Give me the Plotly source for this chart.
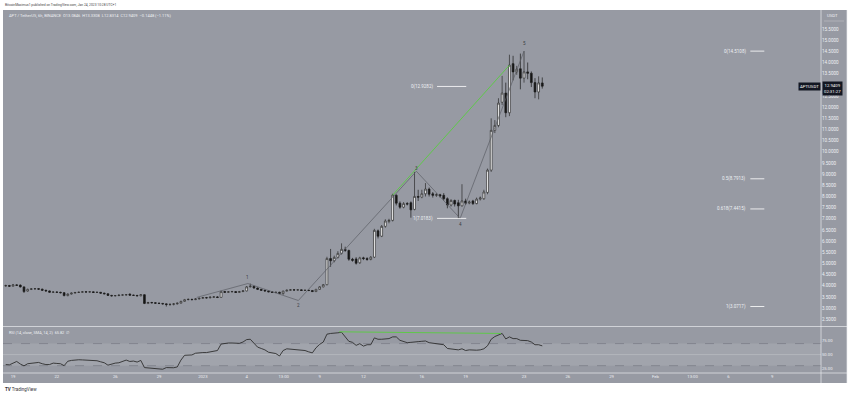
import plotly.graph_objects as go
import pandas as pd

# ---------------- data ----------------
start_time = "2022-12-18 12:00"
n_candles = 148
times = pd.date_range(start_time, periods=n_candles, freq="6h")

opens = [3.99, 4.01, 3.98, 4.04, 4.03, 3.95, 3.76, 3.84, 3.86, 3.87,
         3.85, 3.80, 3.77, 3.71, 3.72, 3.71, 3.69, 3.56, 3.63, 3.67,
         3.70, 3.71, 3.73, 3.72, 3.73, 3.70, 3.71, 3.67, 3.64, 3.57,
         3.55, 3.56, 3.58, 3.59, 3.63, 3.58, 3.57, 3.55, 3.60, 3.21,
         3.25, 3.24, 3.22, 3.21, 3.19, 3.16, 3.17, 3.19, 3.22, 3.30,
         3.38, 3.39, 3.38, 3.41, 3.44, 3.47, 3.46, 3.49, 3.50, 3.48,
         3.74, 3.71, 3.73, 3.74, 3.70, 3.74, 3.77, 3.95, 3.98, 3.90,
         3.84, 3.80, 3.77, 3.73, 3.70, 3.71, 3.65, 3.76, 3.80, 3.82,
         3.81, 3.82, 3.79, 3.80, 3.79, 3.74, 3.84, 3.95, 4.05, 5.22,
         5.12, 5.27, 5.45, 5.63, 5.58, 5.19, 5.20, 5.03, 5.25, 5.22,
         5.18, 5.28, 6.46, 6.22, 6.66, 6.88, 6.93, 8.05, 7.70, 7.52,
         7.68, 7.72, 7.42, 8.00, 7.97, 8.12, 8.33, 8.12, 8.05, 8.08,
         8.05, 7.90, 7.62, 7.82, 7.72, 7.58, 7.80, 7.70, 7.80, 7.68,
         7.88, 7.90, 8.18, 9.18, 10.96, 11.18, 12.22, 12.63, 11.75, 13.95,
         13.58, 13.72, 13.30, 13.58, 13.52, 13.10, 12.68, 13.0846]

highs = [4.05, 4.04, 4.08, 4.07, 4.06, 3.97, 3.87, 3.89, 3.90, 3.89,
         3.87, 3.82, 3.79, 3.75, 3.74, 3.73, 3.72, 3.66, 3.70, 3.72,
         3.74, 3.76, 3.75, 3.76, 3.75, 3.73, 3.72, 3.69, 3.66, 3.59,
         3.58, 3.61, 3.61, 3.62, 3.65, 3.60, 3.59, 3.62, 3.62, 3.28,
         3.28, 3.26, 3.24, 3.23, 3.21, 3.20, 3.22, 3.25, 3.33, 3.41,
         3.43, 3.42, 3.44, 3.47, 3.50, 3.50, 3.52, 3.53, 3.53, 3.78,
         3.77, 3.76, 3.77, 3.76, 3.77, 3.80, 3.99, 4.10, 4.00, 3.92,
         3.86, 3.82, 3.79, 3.75, 3.73, 3.73, 3.78, 3.83, 3.85, 3.84,
         3.84, 3.84, 3.82, 3.82, 3.81, 3.86, 3.98, 4.08, 5.30, 5.65,
         5.35, 5.55, 5.90, 5.75, 5.62, 5.25, 5.28, 5.30, 5.30, 5.28,
         5.33, 6.55, 6.52, 6.72, 6.98, 7.00, 8.12, 8.10, 7.78, 7.75,
         7.75, 7.78, 9.10, 8.30, 8.30, 8.60, 8.40, 8.20, 8.15, 8.12,
         8.15, 7.96, 7.88, 7.86, 7.85, 8.55, 7.90, 7.82, 7.85, 7.95,
         8.00, 8.30, 9.25, 11.50, 11.42, 12.40, 13.40, 13.10, 14.35, 14.30,
         13.85, 14.40, 14.5108, 14.00, 13.60, 13.30, 13.38, 13.3308]

lows = [3.96, 3.95, 3.96, 3.99, 3.92, 3.68, 3.73, 3.81, 3.83, 3.82,
        3.77, 3.74, 3.69, 3.68, 3.68, 3.66, 3.53, 3.53, 3.61, 3.65,
        3.68, 3.69, 3.70, 3.70, 3.68, 3.68, 3.65, 3.62, 3.55, 3.52,
        3.53, 3.54, 3.56, 3.57, 3.56, 3.55, 3.53, 3.53, 3.18, 3.18,
        3.21, 3.19, 3.18, 3.16, 3.0717, 3.10, 3.12, 3.16, 3.20, 3.28,
        3.35, 3.35, 3.36, 3.39, 3.42, 3.43, 3.44, 3.47, 3.45, 3.46,
        3.68, 3.69, 3.71, 3.68, 3.68, 3.72, 3.75, 3.93, 3.87, 3.81,
        3.77, 3.74, 3.71, 3.68, 3.67, 3.63, 3.60, 3.74, 3.78, 3.79,
        3.79, 3.77, 3.77, 3.76, 3.72, 3.72, 3.82, 3.93, 4.02, 4.85,
        5.05, 5.22, 5.40, 5.52, 5.12, 5.08, 4.95, 4.98, 5.15, 5.12,
        5.14, 5.24, 6.12, 6.18, 6.60, 6.80, 6.88, 7.60, 7.45, 7.47,
        7.60, 7.05, 7.38, 7.80, 7.92, 8.00, 8.00, 7.95, 7.98, 7.95,
        7.82, 7.47, 7.55, 7.55, 7.0183, 7.55, 7.62, 7.65, 7.62, 7.65,
        7.82, 7.85, 8.10, 9.10, 10.84, 11.10, 12.10, 11.55, 11.60, 13.20,
        13.45, 12.80, 13.10, 13.25, 12.90, 12.40, 12.35, 12.8314]

closes = [4.01, 3.98, 4.04, 4.02, 3.95, 3.74, 3.84, 3.86, 3.87, 3.85,
          3.80, 3.77, 3.71, 3.72, 3.71, 3.69, 3.56, 3.63, 3.67, 3.70,
          3.71, 3.73, 3.72, 3.73, 3.70, 3.71, 3.67, 3.64, 3.57, 3.55,
          3.56, 3.58, 3.59, 3.60, 3.58, 3.57, 3.55, 3.60, 3.21, 3.25,
          3.24, 3.22, 3.21, 3.19, 3.16, 3.17, 3.19, 3.22, 3.30, 3.38,
          3.39, 3.38, 3.41, 3.44, 3.47, 3.46, 3.49, 3.50, 3.48, 3.74,
          3.71, 3.73, 3.74, 3.70, 3.74, 3.77, 3.95, 3.98, 3.90, 3.84,
          3.80, 3.77, 3.73, 3.70, 3.71, 3.66, 3.76, 3.80, 3.82, 3.81,
          3.82, 3.79, 3.80, 3.79, 3.74, 3.84, 3.95, 4.05, 5.22, 5.12,
          5.27, 5.45, 5.63, 5.58, 5.19, 5.14, 5.01, 5.25, 5.22, 5.18,
          5.28, 6.48, 6.22, 6.66, 6.90, 6.93, 8.06, 7.70, 7.52, 7.68,
          7.66, 7.40, 8.00, 7.97, 8.12, 8.33, 8.10, 8.05, 8.08, 8.02,
          7.90, 7.62, 7.82, 7.66, 7.58, 7.80, 7.70, 7.75, 7.68, 7.88,
          7.93, 8.20, 9.18, 10.96, 11.18, 12.18, 12.63, 11.75, 13.88, 13.58,
          13.70, 13.30, 13.58, 13.52, 13.10, 12.68, 13.0857, 12.9409]

rsi = [32, 31.5, 34.5, 37.6, 33, 29.6, 33.5, 34, 34.6, 35.8,
       33.5, 32, 32, 34.6, 34, 33.5, 30, 38, 39.5, 40.7,
       40.7, 40.4, 40.1, 39.8, 39.5, 38.9, 37, 35.2, 30.9, 33.3,
       34.6, 35.2, 38.3, 40.1, 37.6, 38.3, 36.5, 39.5, 26.5, 25.9,
       25.3, 25, 24.7, 23.5, 26.5, 26.5, 26.2, 27.7, 40.1, 48.8,
       48.8, 49.4, 52.5, 53.4, 53.7, 53.7, 55, 57.4, 57.4, 69.1,
       70.6, 71, 71, 70.4, 70.4, 72.8, 77.2, 77.8, 69.8, 63.6,
       61.1, 58.6, 54.3, 52.5, 51.9, 47.5, 57.4, 60.5, 59.9, 59.3,
       58.6, 58.3, 57.4, 55, 53.1, 62.3, 68.5, 72.8, 87, 88.3,
       88.3, 89.5, 90.5, 82.1, 74.1, 72.2, 66.7, 69.8, 65.4, 67.9,
       67.9, 80.3, 77.8, 77.8, 79, 79, 82.1, 82.1, 75.9, 73.5,
       71.6, 72.2, 73.5, 73.5, 74.1, 74.7, 71.6, 70.4, 69.8, 69.1,
       67.9, 61.1, 59.9, 59.9, 58.6, 60.5, 57.4, 58.6, 58, 58,
       58.6, 60.5, 66, 77.8, 82.7, 85.1, 88.3, 78.4, 82.1, 79,
       79, 75.9, 75.9, 75.3, 72.8, 67.9, 67.9, 65.82]

tick_dates = ["2022-12-19", "2022-12-22", "2022-12-26", "2022-12-29", "2023-01-01",
              "2023-01-04", "2023-01-06 13:00", "2023-01-09", "2023-01-12", "2023-01-16",
              "2023-01-19", "2023-01-23", "2023-01-26", "2023-01-29", "2023-02-01",
              "2023-02-03 13:00", "2023-02-06", "2023-02-09"]
tick_text = ["19", "22", "26", "29", "2023", "4", "13:00", "9", "12", "16",
             "19", "23", "26", "29", "Feb", "13:00", "6", "9"]

price_ticks = [2.5, 3.0, 3.5, 4.0, 4.5, 5.0, 5.5, 6.0, 6.5, 7.0, 7.5, 8.0, 8.5, 9.0,
               9.5, 10.0, 10.5, 11.0, 11.5, 12.0, 12.5, 13.5, 14.0, 14.5, 15.0, 15.5]

x_range = ["2022-12-18 07:30", "2023-02-12 08:10"]
price_range = [2.176, 16.352]
rsi_range = [16.7, 100]
rsi_ticks = [25, 50, 75]
rsi_tick_text = ["25.00", "50.00", "75.00"]

# Elliott wave drawing
wave_x = ["2022-12-31 14:00", "2023-01-04 02:00", "2023-01-07 13:00",
          "2023-01-15 15:00", "2023-01-18 15:00", "2023-01-23 00:00"]
wave_y = [3.48, 4.10, 3.34, 9.13, 7.02, 14.51]
wave_labels = ["1", "2", "3", "4", "5"]
wave_label_y = [4.37, 3.12, 9.26, 6.75, 14.83]

# green divergence lines
green_price_x = ["2023-01-14 00:00", "2023-01-22 00:00"]
green_price_y = [8.06, 13.88]
green_rsi_x = ["2023-01-10 08:00", "2023-01-21 10:00"]
green_rsi_y = [91.3, 88.3]

# Fibonacci drawings
fib_a_x = ["2023-01-17 01:00", "2023-01-19 01:00"]
fib_a_levels = [12.9282, 7.0183]
fib_a_labels = ["0(12.9282)", "1(7.0183)"]
fib_b_x = ["2023-02-07 12:00", "2023-02-08 11:00"]
fib_b_levels = [14.5108, 8.7913, 7.4415, 3.0717]
fib_b_labels = ["0(14.5108)", "0.5(8.7913)", "0.618(7.4415)", "1(3.0717)"]

last_price = 12.9409
header_top = "BitcoinMaximus1 published on TradingView.com, Jan 24, 2023 10:28 UTC+1"
header_symbol = "APT / TetherUS, 6h, BINANCE"
header_ohlc = "O13.0846  H13.3308  L12.8314  C12.9409  −0.1448 (−1.11%)"
rsi_label = "RSI (14, close, SMA, 14, 2)  65.82  ∅"

# ---------------- styling ----------------
BG = "#979aa3"
TXT = "#eef0f3"
FONT = "Roboto, Liberation Sans, sans-serif"

W, H = 850, 396
ML, MR, MT, MB = 3, 29, 10, 23
PW = W - ML - MR
PH = H - MT - MB


def px_x(xp):
    return (xp - ML) / PW


def px_y(yp):
    return (H - MB - yp) / PH


fig = go.Figure()

fig.add_trace(go.Candlestick(
    x=times, open=opens, high=highs, low=lows, close=closes,
    xaxis="x", yaxis="y",
    increasing=dict(line=dict(color="#2b2b2b", width=0.7), fillcolor="#ffffff"),
    decreasing=dict(line=dict(color="#1b1b1b", width=0.7), fillcolor="#151515"),
    showlegend=False, hoverinfo="skip"))

fig.add_trace(go.Scatter(x=times, y=rsi, xaxis="x", yaxis="y2", mode="lines",
                         line=dict(color="#2e2e2e", width=0.9), showlegend=False,
                         hoverinfo="skip"))

fig.add_trace(go.Scatter(x=wave_x, y=wave_y, xaxis="x", yaxis="y", mode="lines",
                         line=dict(color="#5c5f66", width=0.7), showlegend=False,
                         hoverinfo="skip"))
fig.add_trace(go.Scatter(x=green_price_x, y=green_price_y, xaxis="x", yaxis="y",
                         mode="lines", line=dict(color="#5fc84a", width=1),
                         showlegend=False, hoverinfo="skip"))
fig.add_trace(go.Scatter(x=green_rsi_x, y=green_rsi_y, xaxis="x", yaxis="y2",
                         mode="lines", line=dict(color="#5fc84a", width=1),
                         showlegend=False, hoverinfo="skip"))

shapes = []
shapes.append(dict(type="rect", xref="paper", yref="paper", x0=0, x1=px_x(847),
                   y0=px_y(383), y1=1, fillcolor=BG, line=dict(width=0), layer="below"))
shapes.append(dict(type="rect", xref="paper", yref="y2", x0=0, x1=1, y0=30, y1=70,
                   fillcolor="rgba(255,255,255,0.10)", line=dict(width=0), layer="below"))
for lvl, dash, col in [(70, "dash", "#7c7f88"), (30, "dash", "#7c7f88"),
                       (50, "solid", "rgba(255,255,255,0.25)")]:
    shapes.append(dict(type="line", xref="paper", yref="y2", x0=0, x1=1, y0=lvl, y1=lvl,
                       line=dict(color=col, width=0.8, dash=dash), layer="below"))
sep = "rgba(235,237,240,0.85)"
shapes.append(dict(type="line", xref="paper", yref="paper", x0=1, x1=1,
                   y0=px_y(383), y1=1, line=dict(color=sep, width=0.8)))
shapes.append(dict(type="line", xref="paper", yref="paper", x0=0, x1=px_x(847),
                   y0=px_y(326.5), y1=px_y(326.5), line=dict(color=sep, width=0.8)))
shapes.append(dict(type="line", xref="paper", yref="paper", x0=0, x1=px_x(847),
                   y0=0, y1=0, line=dict(color=sep, width=0.8)))
shapes.append(dict(type="line", xref="paper", yref="paper", x0=px_x(847), x1=px_x(847),
                   y0=px_y(383), y1=1, line=dict(color=sep, width=0.8)))
shapes.append(dict(type="line", xref="paper", yref="paper", x0=px_x(824), x1=px_x(844),
                   y0=px_y(21), y1=px_y(21), line=dict(color="rgba(255,255,255,0.4)", width=0.6)))

annotations = []
for lvl, lab in zip(fib_a_levels, fib_a_labels):
    shapes.append(dict(type="line", xref="x", yref="y", x0=fib_a_x[0], x1=fib_a_x[1],
                       y0=lvl, y1=lvl, line=dict(color="rgba(255,255,255,0.9)", width=0.9)))
    annotations.append(dict(x=fib_a_x[0], y=lvl, xref="x", yref="y", text=lab,
                            showarrow=False, xanchor="right", yanchor="middle", xshift=-2,
                            font=dict(size=4.5, color=TXT, family=FONT)))
for lvl, lab in zip(fib_b_levels, fib_b_labels):
    shapes.append(dict(type="line", xref="x", yref="y", x0=fib_b_x[0], x1=fib_b_x[1],
                       y0=lvl, y1=lvl, line=dict(color="rgba(255,255,255,0.9)", width=0.9)))
    annotations.append(dict(x=fib_b_x[0], y=lvl, xref="x", yref="y", text=lab,
                            showarrow=False, xanchor="right", yanchor="middle", xshift=-2,
                            font=dict(size=4.5, color=TXT, family=FONT)))

for xx, yy, lab in zip(wave_x[1:], wave_label_y, wave_labels):
    annotations.append(dict(x=xx, y=yy, xref="x", yref="y", text=lab, showarrow=False,
                            xanchor="center", yanchor="middle",
                            font=dict(size=4.5, color="#3a3c42", family=FONT)))

annotations += [
    dict(x=0, y=px_y(5), xref="paper", yref="paper", text=header_top, showarrow=False,
         xanchor="left", yanchor="middle", font=dict(size=3.3, color="#444", family=FONT)),
    dict(x=px_x(7), y=px_y(15), xref="paper", yref="paper",
         text=header_symbol + "  " + header_ohlc, showarrow=False,
         xanchor="left", yanchor="middle", font=dict(size=4, color=TXT, family=FONT)),
    dict(x=px_x(7), y=px_y(332), xref="paper", yref="paper", text=rsi_label,
         showarrow=False, xanchor="left", yanchor="middle",
         font=dict(size=3.8, color=TXT, family=FONT)),
    dict(x=px_x(825), y=px_y(15), xref="paper", yref="paper", text="USDT",
         showarrow=False, xanchor="left", yanchor="middle",
         font=dict(size=4.3, color=TXT, family=FONT)),
    dict(x=px_x(3), y=px_y(389), xref="paper", yref="paper",
         text="<b>TV</b> TradingView", showarrow=False, xanchor="left", yanchor="middle",
         font=dict(size=4.5, color="#333", family=FONT)),
    dict(x=px_x(822), y=last_price, xref="paper", yref="y",
         text="12.9409<br>02:31:27", showarrow=False, xanchor="left", yanchor="middle",
         bgcolor="#131722", borderpad=1, yshift=-2,
         font=dict(size=4.3, color="#ffffff", family=FONT)),
    dict(x=1, y=last_price, xref="paper", yref="y", text="APTUSDT", showarrow=False,
         xanchor="right", yanchor="middle", bgcolor="#131722", borderpad=1,
         font=dict(size=4.3, color="#ffffff", family=FONT)),
]

fig.update_layout(
    width=W, height=H,
    margin=dict(l=ML, r=MR, t=MT, b=MB, pad=0),
    paper_bgcolor="#ffffff", plot_bgcolor=BG,
    font=dict(family=FONT, color=TXT),
    showlegend=False,
    shapes=shapes, annotations=annotations,
    xaxis=dict(type="date", range=x_range, anchor="y2", rangeslider=dict(visible=False),
               tickmode="array", tickvals=tick_dates, ticktext=tick_text,
               showgrid=False, zeroline=False, showline=False, ticks="",
               tickfont=dict(size=4.2, color=TXT, family=FONT)),
    yaxis=dict(domain=[px_y(326.5), 1], range=price_range, side="right", anchor="x",
               tickmode="array", tickvals=price_ticks, tickformat=".4f",
               showgrid=False, zeroline=False,
               showline=False, ticks="", tickfont=dict(size=4.6, color=TXT, family=FONT)),
    yaxis2=dict(domain=[0, px_y(327)], range=rsi_range, side="right", anchor="x",
                tickmode="array", tickvals=rsi_ticks, ticktext=rsi_tick_text,
                showgrid=False, zeroline=False, showline=False, ticks="",
                tickfont=dict(size=4.2, color=TXT, family=FONT)),
)

fig.write_html("out.html", config={"displayModeBar": False, "staticPlot": True},
               post_script="document.body.style.margin='0px';document.body.style.padding='0px';")
